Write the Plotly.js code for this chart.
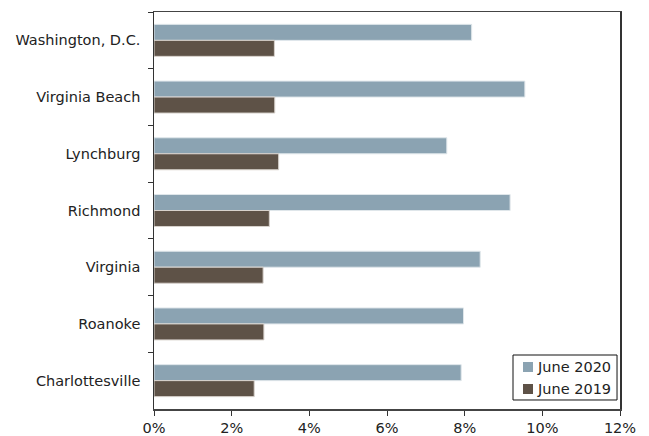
<!DOCTYPE html>
<html>
<head>
<meta charset="utf-8">
<script src="https://cdn.plot.ly/plotly-3.0.1.min.js"></script>
<style>html,body{margin:0;padding:0;background:#fff;}#chart{width:649px;height:436px;}</style>
</head>
<body>
<div id="chart"></div>
<script>
const categories = ["Washington, D.C.", "Virginia Beach", "Lynchburg", "Richmond", "Virginia", "Roanoke", "Charlottesville"];
const june2020 = [8.18, 9.55, 7.54, 9.17, 8.40, 7.97, 7.91];
const june2019 = [3.10, 3.11, 3.21, 2.97, 2.81, 2.83, 2.58];
const seriesNames = ["June 2020", "June 2019"];
const seriesColors = ["#8ba3b2", "#5e5247"];
const xTickVals = [0, 2, 4, 6, 8, 10, 12];
const xTickText = ["0%", "2%", "4%", "6%", "8%", "10%", "12%"];

const font = {family: "DejaVu Sans, Verdana, sans-serif", size: 14.5, color: "#222"};

const traces = [
  {type: "bar", orientation: "h", name: seriesNames[0], y: categories, x: june2020,
   marker: {color: seriesColors[0], line: {color: "#dfe6ea", width: 1}}, hoverinfo: "skip"},
  {type: "bar", orientation: "h", name: seriesNames[1], y: categories, x: june2019,
   marker: {color: seriesColors[1], line: {color: "#d8d2cc", width: 1}}, hoverinfo: "skip"}
];

// custom legend box (positions in paper coordinates)
const legBox = {x0: 0.7704, x1: 0.9936, y0: 0.0227, y1: 0.136};
const legRows = [0.1058, 0.0504];
const shapes = [
  {type: "rect", xref: "paper", yref: "paper", x0: legBox.x0, x1: legBox.x1, y0: legBox.y0, y1: legBox.y1,
   line: {color: "#111", width: 1}, fillcolor: "#fff", layer: "above"}
];
const annotations = [];
seriesNames.forEach((name, i) => {
  shapes.push({type: "rect", xref: "paper", yref: "paper",
    x0: 0.7918, x1: 0.8133, y0: legRows[i] - 0.0126, y1: legRows[i] + 0.0126,
    line: {width: 0}, fillcolor: seriesColors[i], layer: "above"});
  annotations.push({xref: "paper", yref: "paper", x: 0.8176, y: legRows[i], xanchor: "left", yanchor: "middle",
    text: name, showarrow: false, font: font});
});

const layout = {
  width: 649, height: 436,
  margin: {l: 154, r: 29, t: 12, b: 27},
  paper_bgcolor: "#fff", plot_bgcolor: "#fff",
  font: font,
  barmode: "group", bargap: 0.436, bargroupgap: 0,
  showlegend: false,
  shapes: shapes,
  annotations: annotations,
  xaxis: {range: [0, 12], tickvals: xTickVals, ticktext: xTickText,
          showgrid: false, zeroline: false, showline: true, linecolor: "#444", linewidth: 1.5,
          mirror: true, ticks: "outside", ticklen: 5, tickcolor: "#333", tickfont: font, fixedrange: true},
  yaxis: {type: "category", categoryorder: "array", categoryarray: categories, autorange: "reversed",
          showgrid: false, zeroline: false, showline: true, linecolor: "#333", linewidth: 1.5,
          mirror: true, ticks: "outside", tickson: "boundaries", ticklen: 5, tickcolor: "#333",
          tickfont: font, ticksuffix: "  ", fixedrange: true}
};

Plotly.newPlot("chart", traces, layout, {displayModeBar: false, staticPlot: true});
</script>
</body>
</html>
